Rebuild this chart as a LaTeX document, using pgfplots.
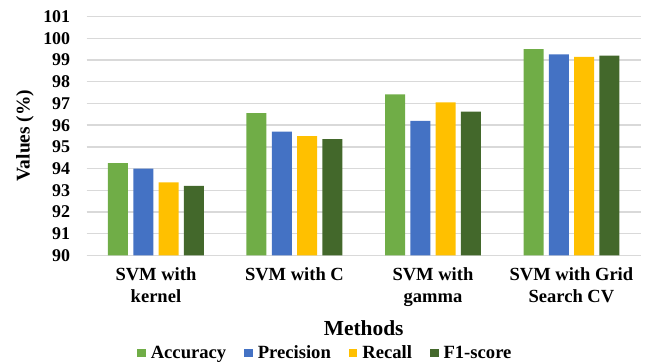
\documentclass[border=0pt]{standalone}
\usepackage{fontspec}
\setmainfont{Liberation Serif}
\usepackage{pgfplots}
\pgfplotsset{compat=1.18}

\definecolor{accgreen}{HTML}{70AD47}
\definecolor{precblue}{HTML}{4472C4}
\definecolor{recgold}{HTML}{FFC000}
\definecolor{fonegreen}{HTML}{43682B}
\definecolor{gridgray}{HTML}{D9D9D9}

\begin{document}
\begin{tikzpicture}
\useasboundingbox (-86.7bp,-108.7bp) rectangle (562.3bp,255.3bp);
\begin{axis}[
  scale only axis,
  width=554bp, height=238.6bp,
  ybar=5.3bp, bar width=20bp,
  xmin=-0.5, xmax=3.5,
  ymin=90, ymax=101,
  xtick={0,1,2,3},
  xticklabels={{SVM with\\kernel},{SVM with C},{SVM with\\gamma},{SVM with Grid\\Search CV}},
  ytick={90,91,...,101},
  axis line style={draw=none},
  major tick length=0pt,
  ymajorgrids,
  grid style={gridgray, line width=1.4bp},
  extra x ticks={}, 
  /pgf/number format/assume math mode=true,
  yticklabel style={font=\fontsize{18}{20}\selectfont\bfseries, xshift=-13bp},
  xticklabel style={font=\fontsize{18.6}{22}\selectfont\bfseries, align=center, yshift=-9bp},
  xlabel={Methods},
  xlabel style={font=\fontsize{21.5}{24}\selectfont\bfseries, at={(axis description cs:0.5,-0.3035)}, anchor=center},
  ylabel={Values (\%)},
  ylabel style={font=\fontsize{19.5}{22}\selectfont\bfseries, at={(axis description cs:-0.1114,0.502)}, anchor=center, rotate=0},
  legend columns=4,
  legend style={draw=none, at={(axis description cs:0.0913,-0.4095)}, anchor=west,
    font=\fontsize{18.7}{21}\selectfont\bfseries, inner sep=0pt, outer sep=0pt,
    /tikz/every odd column/.append style={column sep=3bp},
    /tikz/every even column/.append style={column sep=16bp}},
  legend image code/.code={\fill[#1,draw=none] (0bp,-4.2bp) rectangle (8.5bp,4.2bp);},
  clip=false,
]
% axis baseline along the bottom of the plot
\draw[gridgray, line width=1.4bp] (axis description cs:0,0) -- (axis description cs:1,0);
\addplot[fill=accgreen, draw=none] coordinates {(0,94.25) (1,96.55) (2,97.42) (3,99.51)};
\addplot[fill=precblue, draw=none] coordinates {(0,94.00) (1,95.70) (2,96.20) (3,99.26)};
\addplot[fill=recgold, draw=none] coordinates {(0,93.36) (1,95.50) (2,97.05) (3,99.15)};
\addplot[fill=fonegreen, draw=none] coordinates {(0,93.20) (1,95.36) (2,96.62) (3,99.20)};
\legend{Accuracy, Precision, Recall, F1-score}
\end{axis}
\end{tikzpicture}
\end{document}
